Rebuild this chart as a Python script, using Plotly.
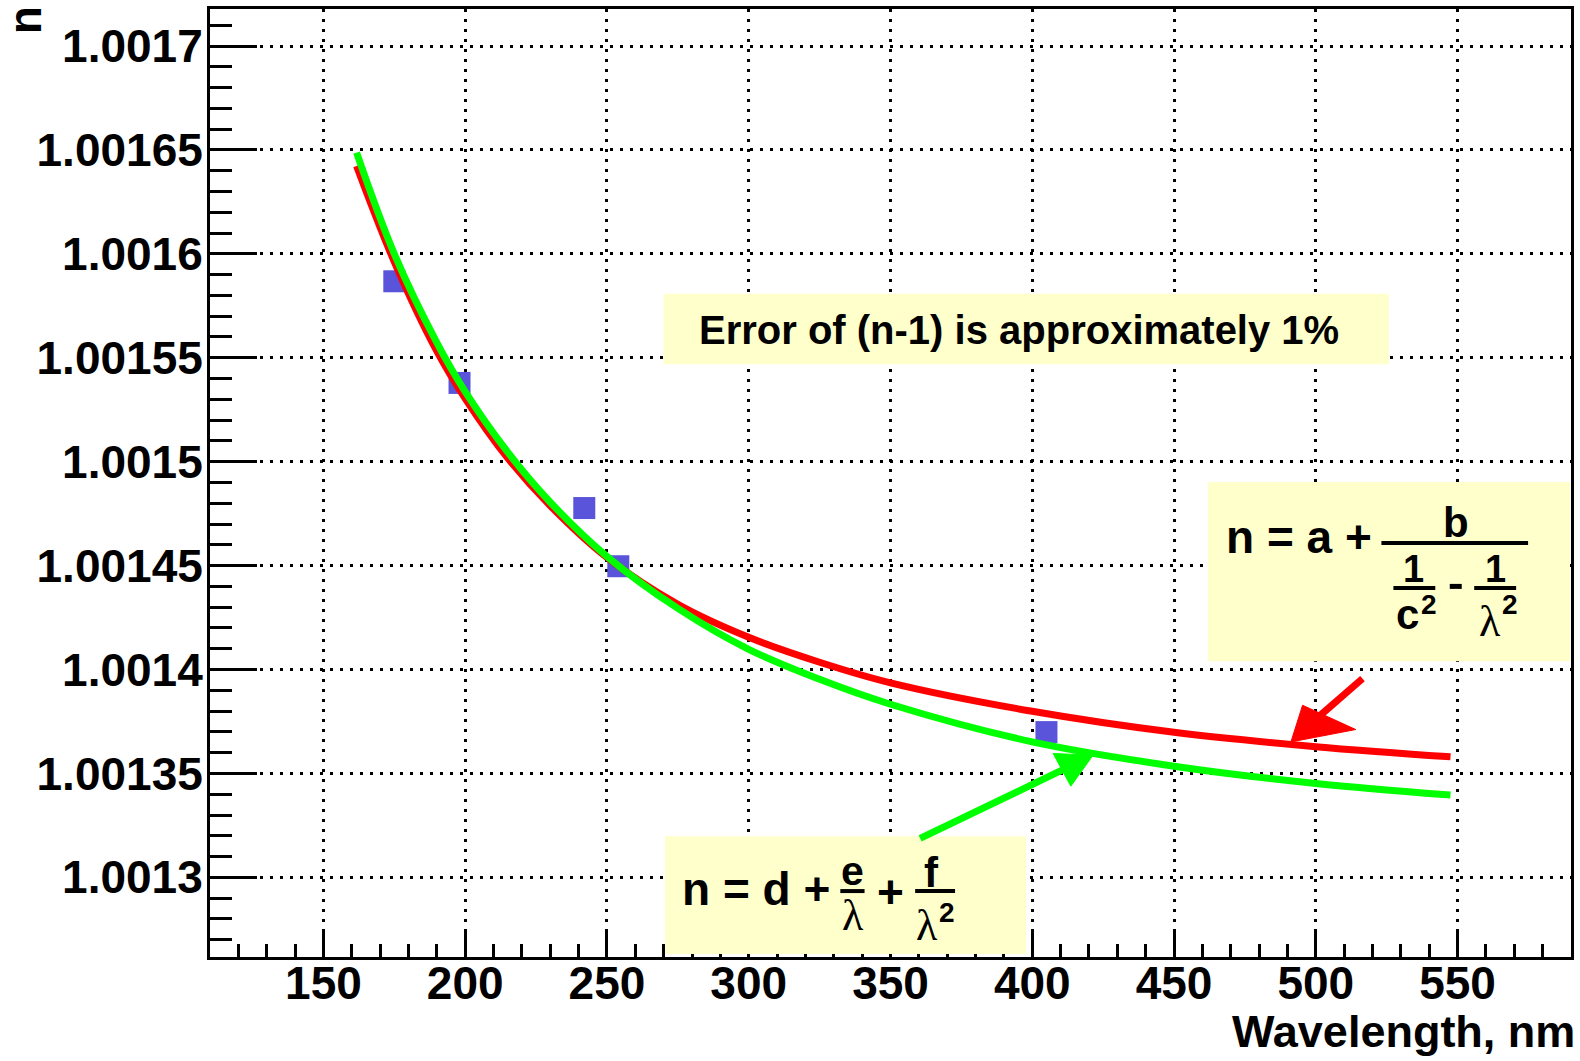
import plotly.graph_objects as go

# ---------------- data ----------------
meas_wavelength = [175, 198, 242, 254, 405]
meas_n = [1.0015868, 1.0015379, 1.0014777, 1.0014497, 1.0013699]

fit_wavelength = [161.7, 175, 190, 200, 215, 230, 250, 275, 300, 325, 350, 400, 450, 500, 547.5]
fit_red_n = [1.0016423, 1.0015962, 1.0015532, 1.0015304, 1.0015017, 1.0014788, 1.0014539,
             1.0014314, 1.0014155, 1.0014035, 1.0013936, 1.0013799, 1.0013698, 1.0013629, 1.0013580]
fit_green_n = [1.0016487, 1.0016000, 1.0015573, 1.0015337, 1.0015046, 1.0014805, 1.0014544,
               1.0014294, 1.0014097, 1.0013953, 1.0013833, 1.0013652, 1.0013535, 1.0013452, 1.0013396]

x_tick_vals = [150, 200, 250, 300, 350, 400, 450, 500, 550]
x_tick_text = ["150", "200", "250", "300", "350", "400", "450", "500", "550"]
y_tick_vals = [1.0013, 1.00135, 1.0014, 1.00145, 1.0015, 1.00155, 1.0016, 1.00165, 1.0017]
y_tick_text = ["1.0013", "1.00135", "1.0014", "1.00145", "1.0015", "1.00155", "1.0016", "1.00165", "1.0017"]

# ---------------- layout geometry ----------------
W, H = 1580, 1061
ML, MR, MT, MB = 210, 6, 8, 104
PW = W - ML - MR
PH = H - MT - MB
FONT = "Liberation Sans"


def px(x):
    return (x - ML) / PW


def py(y):
    return (H - MB - y) / PH


fig = go.Figure()

fig.add_trace(go.Scatter(
    x=meas_wavelength, y=meas_n, mode="markers",
    marker=dict(symbol="square", size=22, color="rgb(89,84,217)", line=dict(width=0)),
    showlegend=False, hoverinfo="x+y"))

fig.add_trace(go.Scatter(
    x=fit_wavelength, y=fit_red_n, mode="lines",
    line=dict(color="rgb(255,0,0)", width=7, shape="spline", smoothing=1.0),
    showlegend=False))

fig.add_trace(go.Scatter(
    x=fit_wavelength, y=fit_green_n, mode="lines",
    line=dict(color="rgb(0,255,0)", width=7, shape="spline", smoothing=1.0),
    showlegend=False))

shapes = []
annotations = []

BOX = "rgb(255,255,204)"


def box(x0, y0, x1, y1):
    shapes.append(dict(type="rect", xref="paper", yref="paper",
                       x0=px(x0), x1=px(x1), y0=py(y1), y1=py(y0),
                       fillcolor=BOX, line=dict(width=0), layer="above"))


def bar(x0, x1, y, w=4, color="black"):
    shapes.append(dict(type="line", xref="paper", yref="paper",
                       x0=px(x0), x1=px(x1), y0=py(y), y1=py(y),
                       line=dict(color=color, width=w), layer="above"))


def seg(x0, y0, x1, y1, color, w):
    shapes.append(dict(type="line", xref="paper", yref="paper",
                       x0=px(x0), x1=px(x1), y0=py(y0), y1=py(y1),
                       line=dict(color=color, width=w), layer="above"))


def tri(pts, color):
    path = "M " + " L ".join(f"{px(a):.6f},{py(b):.6f}" for a, b in pts) + " Z"
    shapes.append(dict(type="path", xref="paper", yref="paper", path=path,
                       fillcolor=color, line=dict(color=color, width=1), layer="above"))


def txt(x, y, s, size, xanchor="center", bold=True, family=FONT, angle=0):
    annotations.append(dict(x=px(x), y=py(y), xref="paper", yref="paper", text=s,
                            showarrow=False, xanchor=xanchor, yanchor="middle",
                            textangle=angle, borderpad=0,
                            font=dict(family=family, size=size, color="black",
                                      weight="bold" if bold else "normal")))


# text boxes
box(664.5, 293, 1391.5, 363.5)
box(1210, 481.5, 1573, 661)
box(666, 836, 1028, 954)

txt(699, 329, "Error of (n-1) is approximately 1%", 40, xanchor="left")

# red formula: n = a + b / (1/c^2 - 1/lambda^2)
txt(1227, 537, "n = a +", 46, xanchor="left")
txt(1458.6, 522, "b", 42)
bar(1384, 1531, 542.6)
txt(1416, 568.3, "1", 38)
txt(1498, 568.3, "1", 38)
bar(1396, 1438, 587.5)
bar(1477, 1519, 587.5)
bar(1452.5, 1464.5, 586, w=5)
txt(1410, 614.2, "c", 42)
txt(1431.5, 604, "2", 28)
txt(1492.4, 621, "λ", 44, bold=False, family="Liberation Serif")
txt(1512.6, 604, "2", 28)

# green formula: n = d + e/lambda + f/lambda^2
txt(682, 889, "n = d +", 46, xanchor="left")
txt(853.8, 871, "e", 41)
bar(841.7, 866, 891)
txt(854, 915.5, "λ", 44, bold=False, family="Liberation Serif")
txt(891.7, 891.7, "+", 46)
txt(933.3, 872, "f", 42)
bar(916.7, 956.7, 891)
txt(928.3, 925.5, "λ", 44, bold=False, family="Liberation Serif")
txt(948.3, 912, "2", 28)

# arrows
seg(1365, 678.3, 1313, 723.5, "rgb(255,0,0)", 7)
tri([(1293.3, 741.7), (1305, 705), (1358.3, 729.3)], "rgb(255,0,0)")
seg(921.7, 838.3, 1068, 768, "rgb(0,255,0)", 7)
tri([(1055, 753.3), (1095, 755), (1072.7, 786)], "rgb(0,255,0)")

# axis titles
txt(1579, 1032, "Wavelength, nm", 45, xanchor="right")
txt(24, 18.8, "n", 46, angle=-90)

axis_common = dict(
    showline=True, linecolor="black", linewidth=3, mirror=True,
    ticks="inside", tickcolor="black", tickwidth=2.5,
    showgrid=True, gridcolor="black", gridwidth=2.5, griddash="3px,7px",
    zeroline=False,
    tickfont=dict(family=FONT, size=46, color="black", weight="bold"),
)

fig.update_xaxes(
    range=[110, 590], tickmode="array", tickvals=x_tick_vals, ticktext=x_tick_text,
    ticklen=27, ticklabelstandoff=-16,
    minor=dict(ticks="inside", dtick=10, tick0=110, ticklen=13, tickwidth=2.5,
               tickcolor="black", showgrid=False),
    **axis_common)

fig.update_yaxes(
    range=[1.0012617, 1.0017178], tickmode="array", tickvals=y_tick_vals, ticktext=y_tick_text,
    ticklen=47, ticklabelstandoff=-5,
    minor=dict(ticks="inside", dtick=0.00001, tick0=1.0013, ticklen=22, tickwidth=2.5,
               tickcolor="black", showgrid=False),
    **axis_common)

fig.update_layout(
    width=W, height=H,
    margin=dict(l=ML, r=MR, t=MT, b=MB, pad=0),
    paper_bgcolor="white", plot_bgcolor="white",
    showlegend=False,
    shapes=shapes, annotations=annotations,
)

fig.write_html("out.html")
